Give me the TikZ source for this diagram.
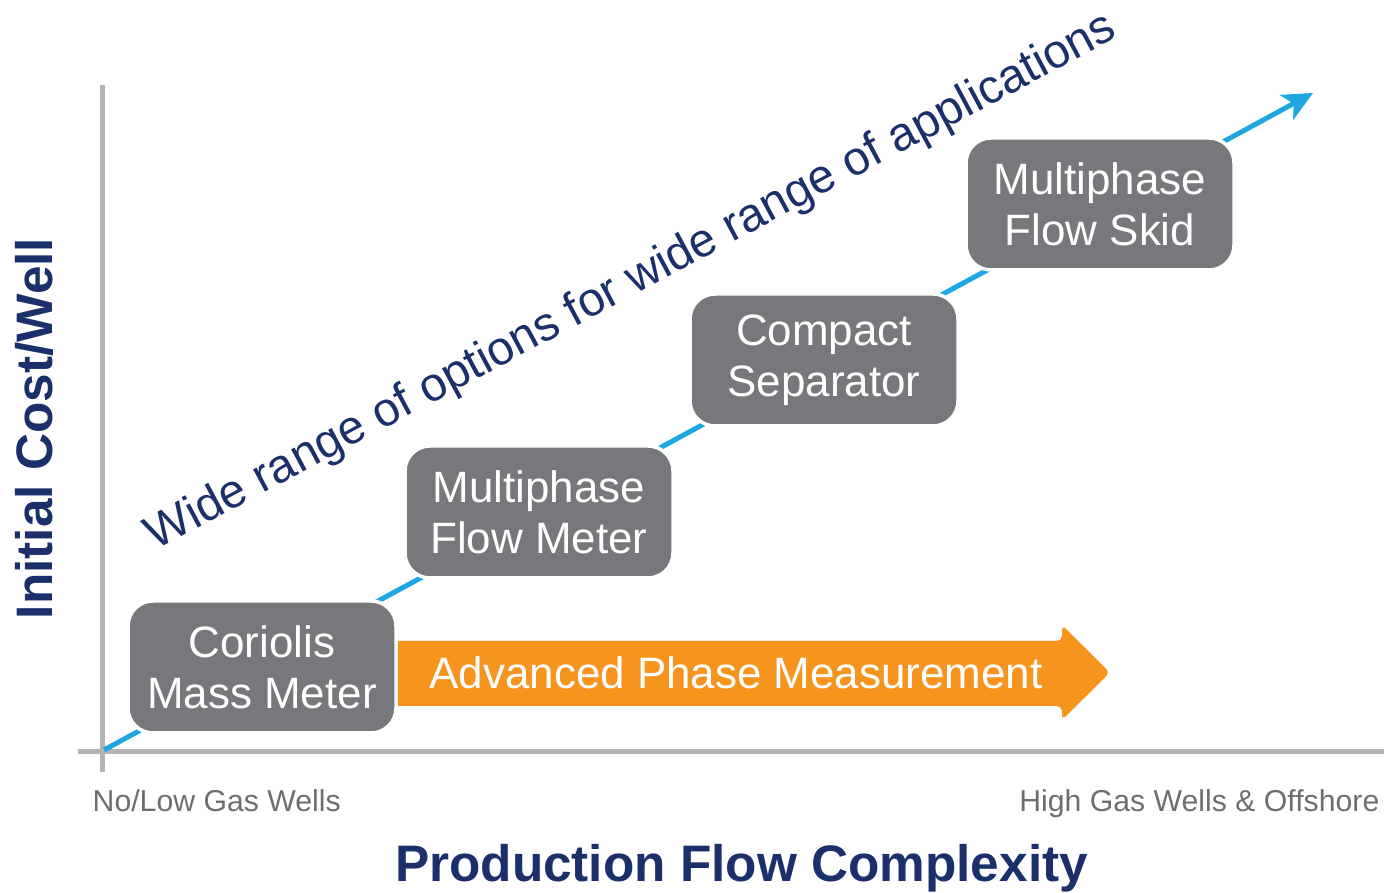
\documentclass[tikz,border=0pt]{standalone}
\usepackage{fontspec}
\setmainfont{Liberation Sans}
\usetikzlibrary{arrows.meta}
\definecolor{meterGray}{HTML}{77787B}
\definecolor{axisGray}{HTML}{B3B3B3}
\definecolor{labelGray}{HTML}{6D6E71}
\definecolor{trendBlue}{HTML}{1EA7E1}
\definecolor{phaseOrange}{HTML}{F7941E}
\definecolor{titleNavy}{HTML}{1B2F6B}
\begin{document}
\begin{tikzpicture}[
    meter/.style={fill=meterGray, draw=white, line width=1pt, rounded corners=0.25cm,
        minimum width=2.68cm, minimum height=1.32cm, align=center, text=white,
        font=\fontsize{12.5}{14.5}\selectfont},
    axis/.style={draw=axisGray, line width=0.05cm},
    trend/.style={draw=trendBlue, line width=0.05cm,
        -{Stealth[length=0.3cm, width=0.28cm, inset=0.08cm]}},
    ]
    \useasboundingbox (0,0) rectangle (13.84,8.93);
    % axes
    \coordinate (o) at (1.02,1.41);
    \coordinate (ytop) at (1.02,8.08);
    \coordinate (ybot) at (1.02,1.21);
    \coordinate (xleft) at (0.78,1.41);
    \coordinate (xright) at (13.84,1.41);
    \coordinate (tip) at (13.13,8.00);
    \draw[axis] (ybot) -- (ytop);
    \draw[axis] (xleft) -- (xright);
    \draw[trend] (1.04,1.43) -- (tip);
    % orange arrow
    \fill[phaseOrange, rounded corners=1.5pt] (3.90,2.52) -- (10.62,2.52) -- (10.62,2.68)
        -- (11.10,2.205) -- (10.62,1.73) -- (10.62,1.87) -- (3.90,1.87) -- cycle;
    \node[text=white, font=\fontsize{12.5}{14.5}\selectfont] (apm) at (7.36,2.20)
        {Advanced Phase Measurement};
    % meters
    \node[meter] (cmm) at (2.62,2.26) {Coriolis\\Mass Meter};
    \node[meter] (mpfm) at (5.39,3.81) {Multiphase\\Flow Meter};
    \node[meter] (csep) at (8.24,5.33) {Compact\\Separator};
    \node[meter] (mpskid) at (11.00,6.89) {Multiphase\\Flow Skid};
    % labels
    \node[rotate=28.1, anchor=base, text=titleNavy, font=\fontsize{13.5}{16}\selectfont]
        (range) at (6.375,5.995) {Wide range of options for wide range of applications};
    \node[rotate=90, anchor=base, text=titleNavy, font=\fontsize{14.6}{17}\selectfont\bfseries]
        (ylab) at (0.52,4.645) {Initial Cost/Well};
    \node[anchor=base, text=titleNavy, font=\fontsize{14.6}{17}\selectfont\bfseries]
        (xlab) at (7.415,0.11) {Production Flow Complexity};
    \node[anchor=base west, inner sep=0pt, text=labelGray, font=\fontsize{8.6}{10}\selectfont]
        (lowgas) at (0.92,0.81) {No/Low Gas Wells};
    \node[anchor=base east, inner sep=0pt, text=labelGray, font=\fontsize{8.6}{10}\selectfont]
        (highgas) at (13.80,0.81) {High Gas Wells \& Offshore};
\end{tikzpicture}
\end{document}
